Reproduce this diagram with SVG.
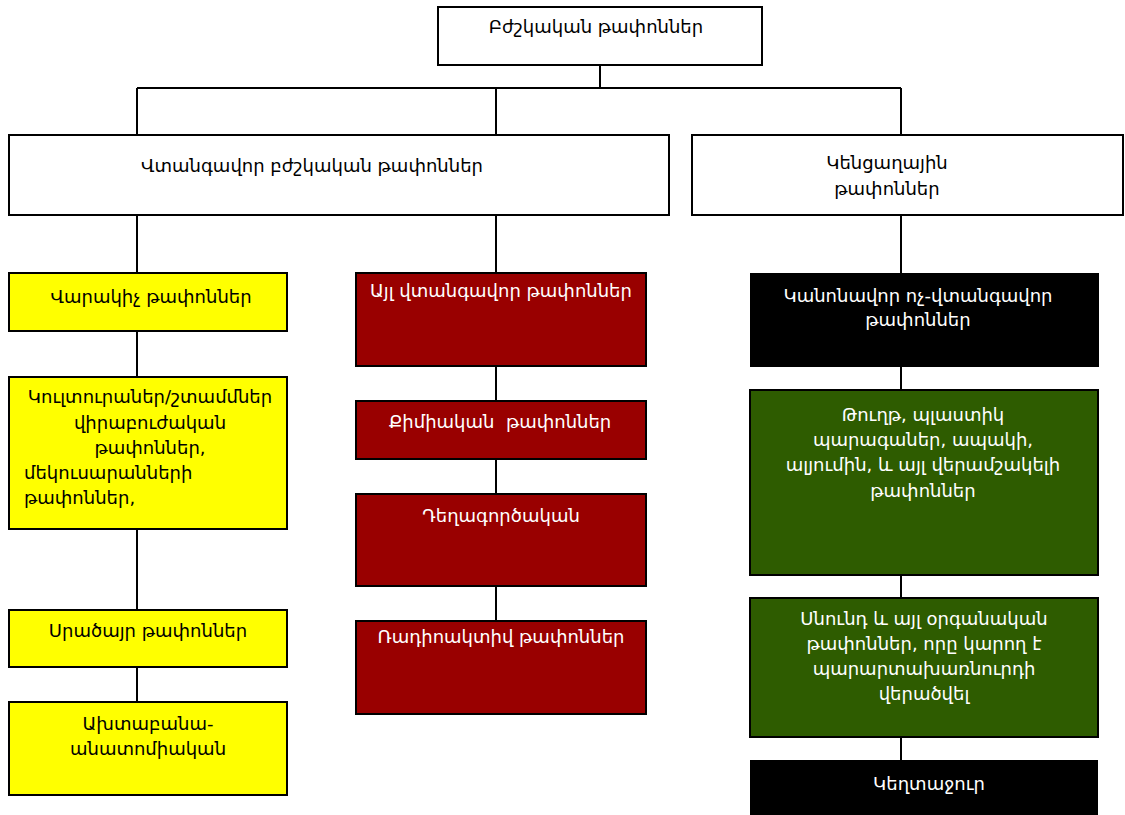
<svg xmlns="http://www.w3.org/2000/svg" width="1125" height="815" viewBox="0 0 1125 815">
<style>
text{font-family:"DejaVu Sans","Noto Sans",sans-serif;font-size:18px;text-anchor:middle}
.w{fill:#fff;stroke:#000;stroke-width:2}
.y{fill:#ffff00;stroke:#000;stroke-width:2}
.r{fill:#990000;stroke:#000;stroke-width:2}
.g{fill:#2e5c00;stroke:#000;stroke-width:2}
.k{fill:#000;stroke:none}
.tw{fill:#fff}
.tb{fill:#000}
.c{stroke:#000;stroke-width:2;fill:none}
</style>
<rect width="1125" height="815" fill="#fff"/>
<g id="connectors" class="c">
<path d="M600 65V88M137 88H901M137 88V135M496 88V135M901 88V135"/>
<path d="M137 215V273M496 215V273M901 215V273"/>
<path d="M137 331V377M137 529V610M137 667V702"/>
<path d="M496 366V401M496 459V494M496 586V621"/>
<path d="M901 367V390M901 575V598M901 737V760"/>
</g>
<g id="n-root"><rect class="w" x="438" y="7" width="324" height="58"/><text class="tb" x="596" y="33">Բժշկական թափոններ</text></g>
<g id="n-hazard"><rect class="w" x="9" y="135" width="660" height="80"/><text class="tb" x="312" y="172">Վտանգավոր բժշկական թափոններ</text></g>
<g id="n-household"><rect class="w" x="692" y="135" width="431" height="80"/><text class="tb" x="887" y="169">Կենցաղային</text><text class="tb" x="887" y="195">թափոններ</text></g>
<g id="n-infect"><rect class="y" x="9" y="273" width="278" height="58"/><text class="tb" x="151" y="303">Վարակիչ թափոններ</text></g>
<g id="n-cultures"><rect class="y" x="9" y="377" width="278" height="152"/>
<text class="tb" x="150" y="403">Կուլտուրաներ/շտամմներ</text>
<text class="tb" x="150" y="429">վիրաբուժական</text>
<text class="tb" x="150" y="454">թափոններ,</text>
<text class="tb" x="24" y="479" style="text-anchor:start">մեկուսարանների</text>
<text class="tb" x="24" y="504" style="text-anchor:start">թափոններ,</text></g>
<g id="n-sharp"><rect class="y" x="9" y="610" width="278" height="57"/><text class="tb" x="148" y="637">Սրածայր թափոններ</text></g>
<g id="n-patho"><rect class="y" x="9" y="702" width="278" height="93"/><text class="tb" x="148" y="730">Ախտաբանա-</text><text class="tb" x="148" y="755">անատոմիական</text></g>
<g id="n-other"><rect class="r" x="356" y="273" width="290" height="93"/><text class="tw" x="501" y="297">Այլ վտանգավոր թափոններ</text></g>
<g id="n-chem"><rect class="r" x="356" y="401" width="290" height="58"/><text class="tw" x="500" y="428" xml:space="preserve">Քիմիական  թափոններ</text></g>
<g id="n-pharma"><rect class="r" x="356" y="494" width="290" height="92"/><text class="tw" x="501" y="522">Դեղագործական</text></g>
<g id="n-radio"><rect class="r" x="356" y="621" width="290" height="93"/><text class="tw" x="501" y="643">Ռադիոակտիվ թափոններ</text></g>
<g id="n-regular"><rect class="k" x="750" y="273" width="349" height="94"/><text class="tw" x="918" y="302">Կանոնավոր ոչ-վտանգավոր</text><text class="tw" x="918" y="326">թափոններ</text></g>
<g id="n-recycle"><rect class="g" x="750" y="390" width="348" height="185"/>
<text class="tw" x="923" y="421">Թուղթ, պլաստիկ</text>
<text class="tw" x="923" y="446">պարագաներ, ապակի,</text>
<text class="tw" x="923" y="471">ալյումին, և այլ վերամշակելի</text>
<text class="tw" x="923" y="497">թափոններ</text></g>
<g id="n-organic"><rect class="g" x="750" y="598" width="348" height="139"/>
<text class="tw" x="924" y="625">Սնունդ և այլ օրգանական</text>
<text class="tw" x="924" y="650">թափոններ, որը կարող է</text>
<text class="tw" x="924" y="675">պարարտախառնուրդի</text>
<text class="tw" x="924" y="700">վերածվել</text></g>
<g id="n-waste"><rect class="k" x="750" y="760" width="348" height="55"/><text class="tw" x="929" y="790">Կեղտաջուր</text></g>
</svg>
